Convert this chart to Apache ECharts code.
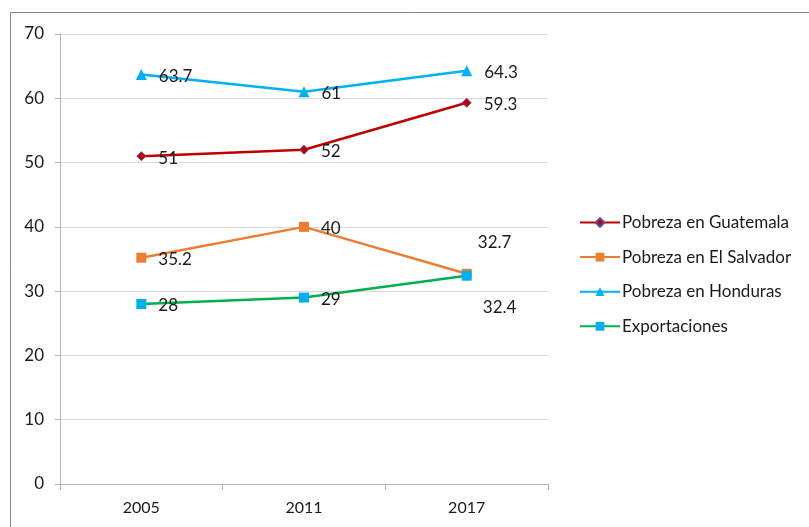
<!DOCTYPE html>
<html>
<head>
<meta charset="utf-8">
<script src="https://cdn.jsdelivr.net/npm/echarts@6/dist/echarts.min.js"></script>
<style>html,body{margin:0;padding:0;background:#fff}#c{width:809px;height:527px}</style>
</head>
<body>
<div id="c"></div>
<script>
var categories = ['2005', '2011', '2017'];
var guatemala = [51, 52, 59.3];
var elSalvador = [35.2, 40, 32.7];
var honduras = [63.7, 61, 64.3];
var exportaciones = [28, 29, 32.4];
var yTicks = [0, 10, 20, 30, 40, 50, 60, 70];

var FONT = 'Lato';
var chart = echarts.init(document.getElementById('c'));
function lbl(pos, extra) {
  var o = { show: true, position: 'right', distance: 12, color: '#1a1a1a', fontSize: 17, fontFamily: FONT, offset: [0, 2] };
  for (var k in extra) o[k] = extra[k];
  return o;
}
function mkData(arr, lastLabel) {
  return arr.map(function (v, i) {
    if (i === arr.length - 1 && lastLabel) return { value: v, label: lastLabel };
    return v;
  });
}
chart.setOption({
  animation: false,
  backgroundColor: '#fff',
  graphic: [
    { type: 'line', shape: { x1: 10.5, y1: 12.5, x2: 809, y2: 12.5 }, style: { stroke: '#868686', lineWidth: 1 } },
    { type: 'line', shape: { x1: 10.5, y1: 12.5, x2: 10.5, y2: 527 }, style: { stroke: '#868686', lineWidth: 1 } }
  ],
  grid: { left: 60, right: 261, top: 34, bottom: 43, containLabel: false },
  legend: {
    orient: 'vertical', left: 574, top: 209,
    itemWidth: 40, itemHeight: 11, itemGap: 17.6,
    textStyle: { fontSize: 17, fontFamily: FONT, color: '#1a1a1a', padding: [0, 0, 0, -3] },
    data: ['Pobreza en Guatemala', 'Pobreza en El Salvador', 'Pobreza en Honduras', 'Exportaciones']
  },
  xAxis: {
    type: 'category', data: categories, boundaryGap: true,
    axisLine: { lineStyle: { color: '#b3b3b3', width: 1 } },
    axisTick: { show: true, length: 6, lineStyle: { color: '#b3b3b3' } },
    axisLabel: { fontSize: 16, fontFamily: FONT, color: '#1a1a1a', margin: 16 }
  },
  yAxis: {
    type: 'value', min: yTicks[0], max: yTicks[yTicks.length - 1], interval: 10,
    axisLine: { show: true, lineStyle: { color: '#b3b3b3', width: 1 } },
    axisTick: { show: true, length: 5, lineStyle: { color: '#b3b3b3' } },
    splitLine: { lineStyle: { color: '#d9d9d9', width: 1 } },
    axisLabel: { fontSize: 17, fontFamily: FONT, color: '#1a1a1a', margin: 16 }
  },
  series: [
    {
      name: 'Pobreza en Guatemala', type: 'line', data: mkData(guatemala),
      lineStyle: { color: '#C00000', width: 2.5 },
      itemStyle: { color: '#C00000', borderColor: '#5b4f9a', borderWidth: 1 },
      symbol: 'diamond', symbolSize: 9, label: lbl()
    },
    {
      name: 'Pobreza en El Salvador', type: 'line',
      data: mkData(elSalvador, lbl('right', { position: 'top', distance: 0, offset: [28, -18] })),
      lineStyle: { color: '#ED7D31', width: 2.5 },
      itemStyle: { color: '#ED7D31' },
      symbol: 'rect', symbolSize: 10, label: lbl()
    },
    {
      name: 'Pobreza en Honduras', type: 'line', data: mkData(honduras),
      lineStyle: { color: '#00B0F0', width: 2.5 },
      itemStyle: { color: '#00B0F0' },
      symbol: 'triangle', symbolSize: 11, label: lbl()
    },
    {
      name: 'Exportaciones', type: 'line',
      data: mkData(exportaciones, lbl('right', { position: 'bottom', distance: 0, offset: [33, 18] })),
      lineStyle: { color: '#00B050', width: 2.5 },
      itemStyle: { color: '#00B0F0' },
      symbol: 'rect', symbolSize: 10, label: lbl()
    }
  ]
});
</script>
</body>
</html>
